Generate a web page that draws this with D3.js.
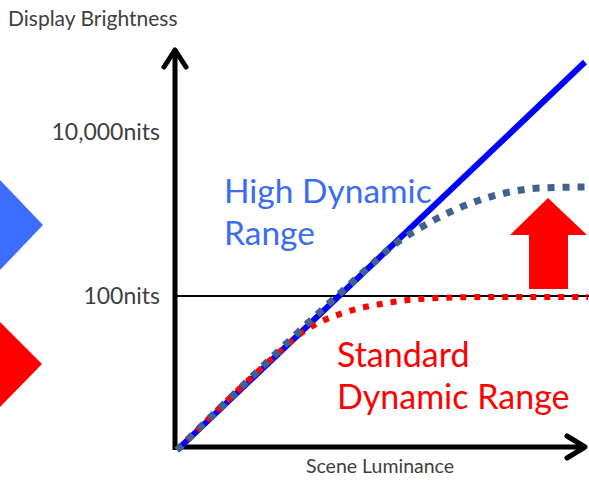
<!DOCTYPE html>
<html>
<head>
<meta charset="utf-8">
<script src="https://cdn.jsdelivr.net/npm/d3@7"></script>
<style>
  body { margin: 0; background: #fff; }
  svg { display: block; font-family: Lato, "Open Sans", sans-serif; }
</style>
</head>
<body>
<div id="chart"></div>
<script>
// scene luminance vs display brightness (log / log, nits)
const yTicks = [100, 10000];

const hdrLinearX = [1.32, 71400];
const hdrLinearY = [1.32, 71400];

// HDR tone curve (dotted, grey-blue)
const hdrCurveX = [1.32, 229, 446, 870, 1940, 4320, 9630, 21500, 77400];
const hdrCurveY = [1.32, 232, 431, 675, 1058, 1482, 1855, 2075, 2135];

// SDR tone curve (dotted, red)
const sdrCurveX = [1.32, 23.6, 35.3, 60.2, 111, 360, 1370, 5650, 77400];
const sdrCurveY = [1.32, 23.9, 34.4, 48.2, 62.1, 82.2, 94.5, 97.2, 97.2];

const width = 589, height = 483;

const svg = d3.select("#chart")
  .append("svg")
  .attr("width", width)
  .attr("height", height);

const x = d3.scaleLog().domain([1.32, 71400]).range([177, 585]);
const y = d3.scaleLog().domain([100, 10000]).range([296, 132]);

const x0 = 175, yBase = 447;

// side decorations
svg.append("path")
  .attr("d", "M0,180 L43,225 L0,270 Z")
  .attr("fill", "#3d6dff");
svg.append("path")
  .attr("d", "M0,322 L42,364 L0,407 Z")
  .attr("fill", "#ff0000");

// 100 nits reference line
svg.append("line")
  .attr("x1", x0).attr("x2", 589)
  .attr("y1", y(100)).attr("y2", y(100))
  .attr("stroke", "#000")
  .attr("stroke-width", 2);

// y axis labels
const yAxis = svg.append("g")
  .attr("transform", `translate(${x0},0)`)
  .call(d3.axisLeft(y)
    .tickValues(yTicks)
    .tickSize(0)
    .tickPadding(15)
    .tickFormat(d => d3.format(",")(d) + "nits"));
yAxis.select(".domain").remove();
yAxis.selectAll("text")
  .attr("font-family", "Lato, sans-serif")
  .attr("font-size", 23)
  .attr("fill", "#404040");

// axes with open arrow heads
svg.append("line")
  .attr("x1", x0).attr("x2", x0)
  .attr("y1", 450).attr("y2", 49)
  .attr("stroke", "#000").attr("stroke-width", 5);
svg.append("path")
  .attr("d", `M${x0 - 11},${67} L${x0},${50} L${x0 + 11},${67}`)
  .attr("fill", "none").attr("stroke", "#000")
  .attr("stroke-width", 5).attr("stroke-linecap", "round").attr("stroke-linejoin", "round");

svg.append("line")
  .attr("x1", x0 - 2).attr("x2", 584)
  .attr("y1", yBase).attr("y2", yBase)
  .attr("stroke", "#000").attr("stroke-width", 5);
svg.append("path")
  .attr("d", `M567,${yBase - 11} L585,${yBase} L567,${yBase + 11}`)
  .attr("fill", "none").attr("stroke", "#000")
  .attr("stroke-width", 5).attr("stroke-linecap", "round").attr("stroke-linejoin", "round");

// curves
const line = d3.line()
  .x(d => x(d[0]))
  .y(d => y(d[1]))
  .curve(d3.curveMonotoneX);

svg.append("path")
  .attr("d", line(d3.zip(hdrLinearX, hdrLinearY)))
  .attr("fill", "none")
  .attr("stroke", "#0000ff")
  .attr("stroke-width", 6);

svg.append("path")
  .attr("d", line(d3.zip(sdrCurveX, sdrCurveY)))
  .attr("fill", "none")
  .attr("stroke", "#ff0000")
  .attr("stroke-width", 6)
  .attr("stroke-dasharray", "6,8");

svg.append("path")
  .attr("d", line(d3.zip(hdrCurveX, hdrCurveY)))
  .attr("fill", "none")
  .attr("stroke", "#416290")
  .attr("stroke-width", 7)
  .attr("stroke-dasharray", "7,8");

// big red arrow
svg.append("path")
  .attr("d", "M529,289 L529,235 L510,235 L548,198 L587,235 L568,235 L568,289 Z")
  .attr("fill", "#ff0000");

// labels
svg.append("text")
  .attr("x", 8).attr("y", 26)
  .attr("font-size", 21)
  .attr("fill", "#404040")
  .text("Display Brightness");

svg.append("text")
  .attr("x", 380).attr("y", 473)
  .attr("text-anchor", "middle")
  .attr("font-size", 19.5)
  .attr("fill", "#404040")
  .text("Scene Luminance");

const hdrText = svg.append("text")
  .attr("font-size", 33.5)
  .attr("fill", "#3a6cf4");
hdrText.append("tspan").attr("x", 224).attr("y", 203).text("High Dynamic");
hdrText.append("tspan").attr("x", 224).attr("y", 245).text("Range");

const sdrText = svg.append("text")
  .attr("font-size", 34)
  .attr("fill", "#ff0000");
sdrText.append("tspan").attr("x", 337).attr("y", 367).text("Standard");
sdrText.append("tspan").attr("x", 337).attr("y", 409).text("Dynamic Range");
</script>
</body>
</html>
